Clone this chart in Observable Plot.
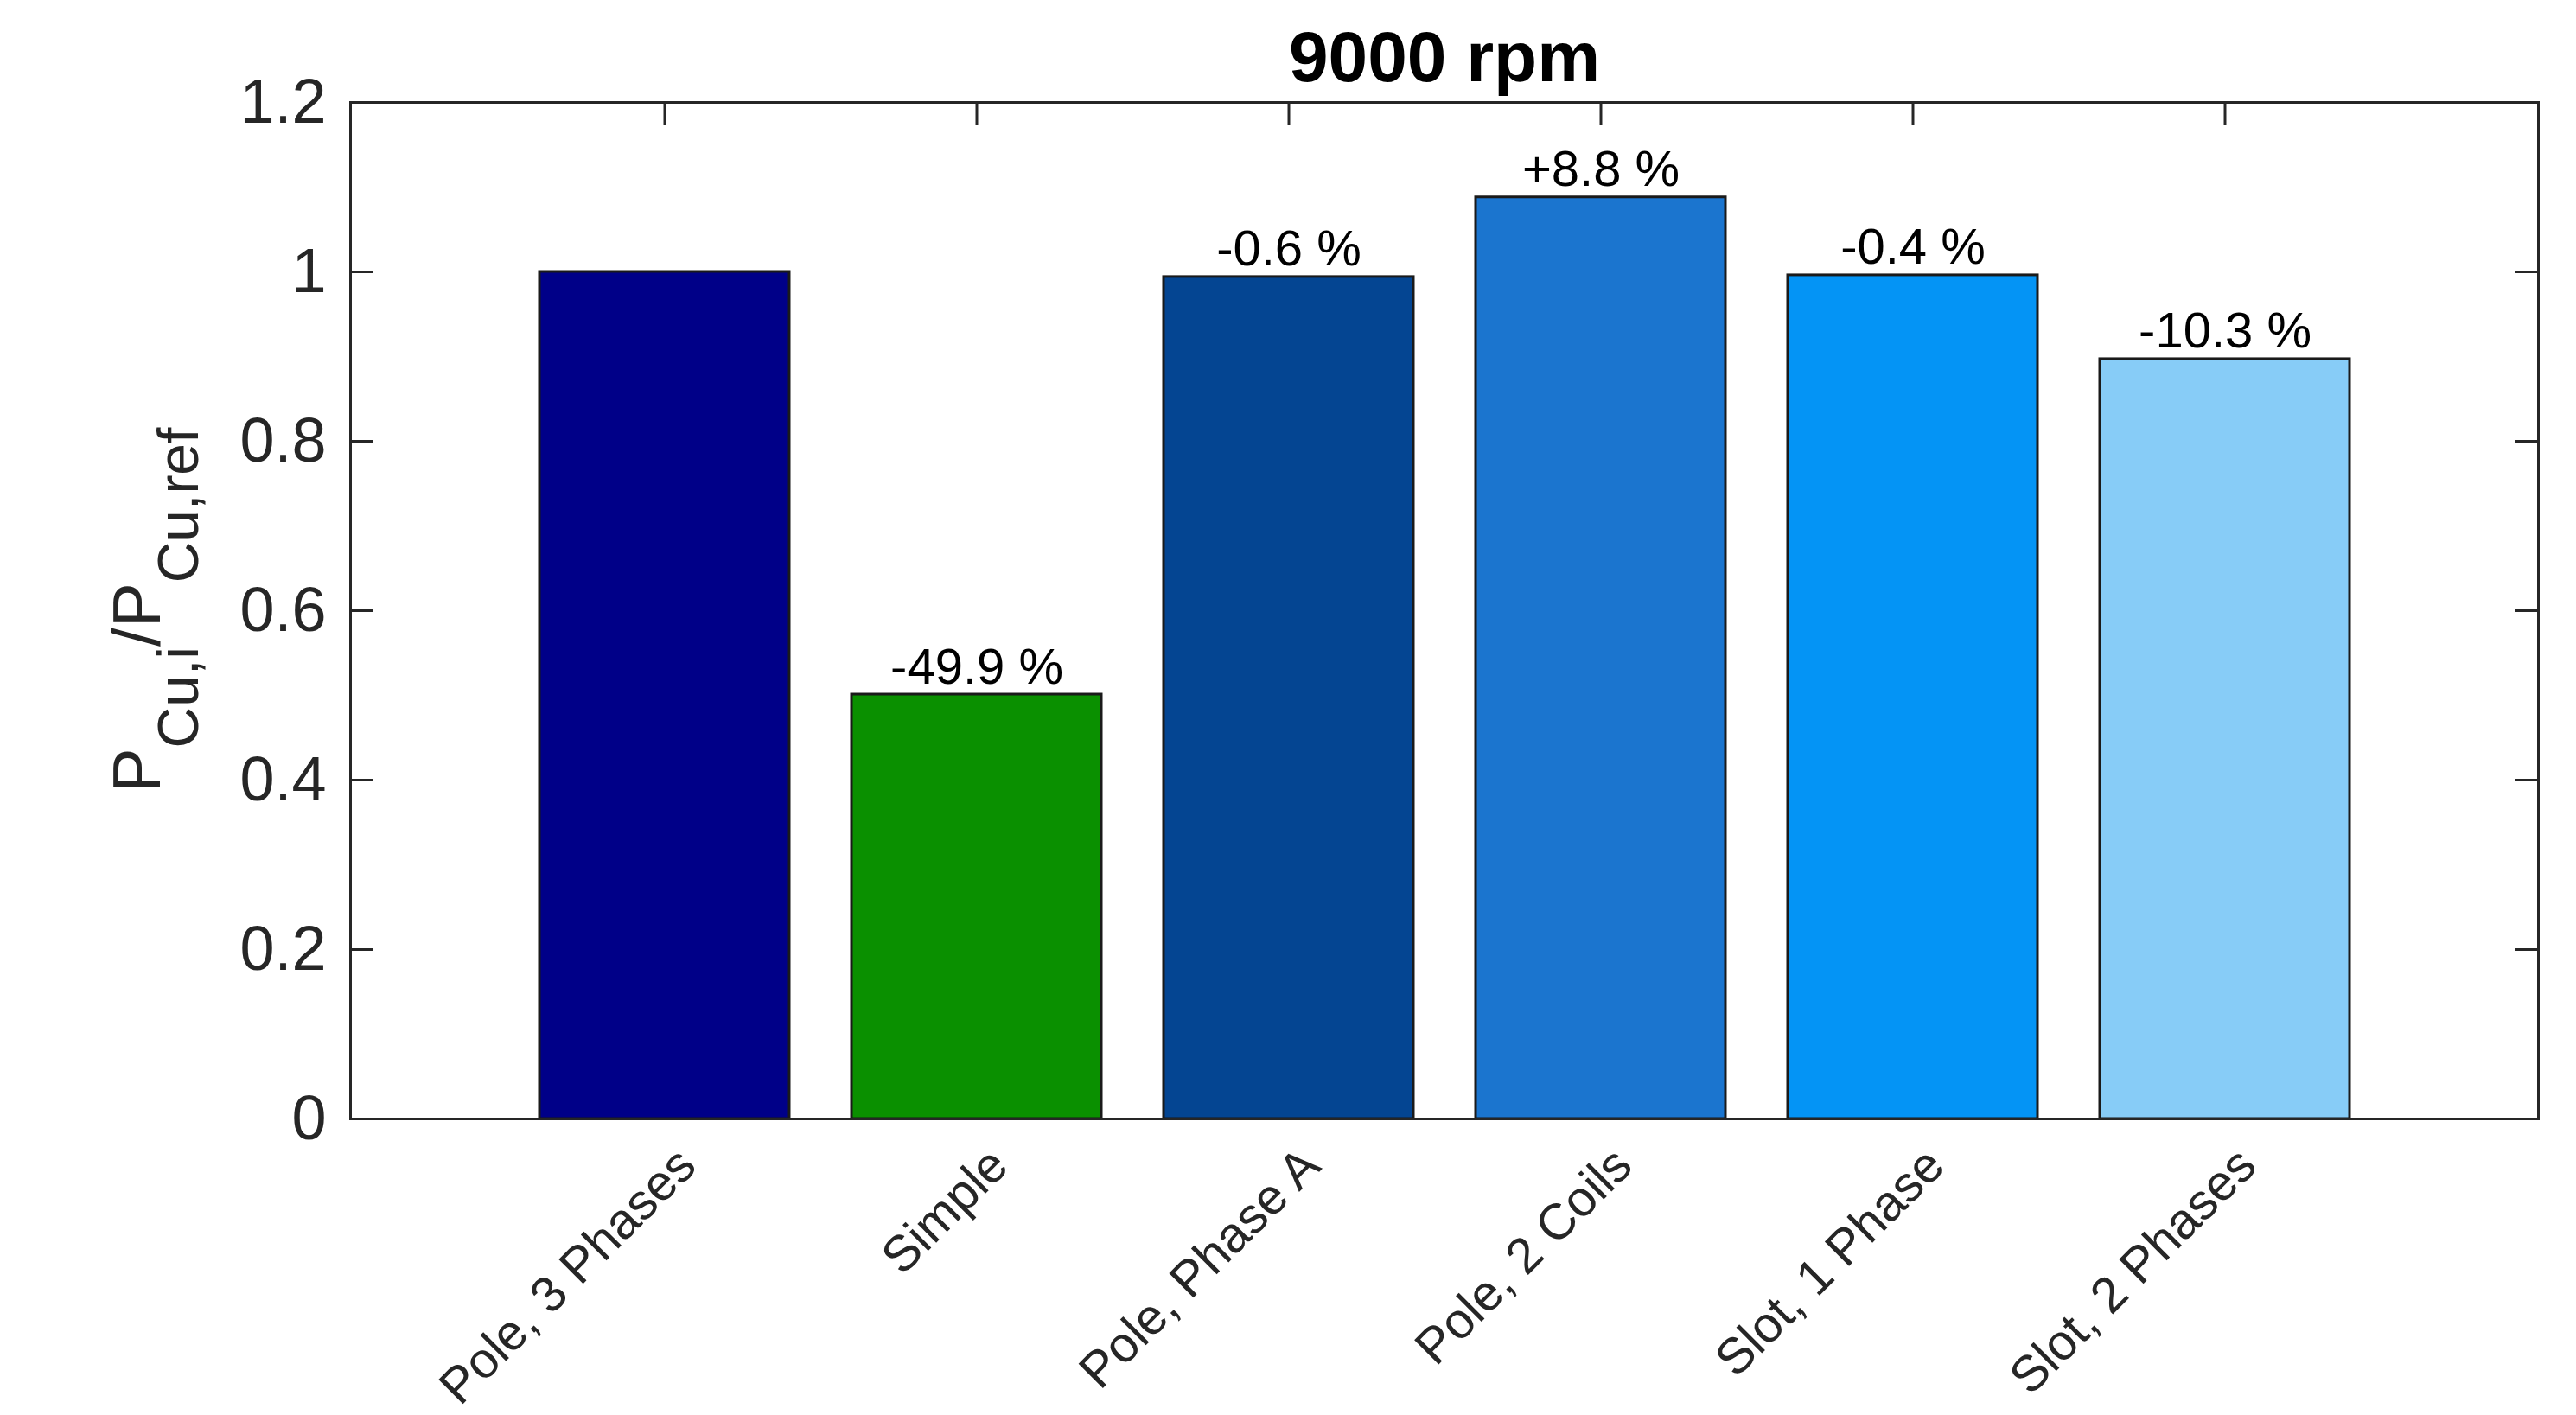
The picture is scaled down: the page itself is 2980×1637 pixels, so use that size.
<!DOCTYPE html>
<html><head><meta charset="utf-8">
<script src="https://cdn.jsdelivr.net/npm/d3@7"></script>
<script src="https://cdn.jsdelivr.net/npm/@observablehq/plot@0.6"></script>
<style>html,body{margin:0;padding:0;background:#fff} svg{display:block}</style>
</head><body><div id="chart"></div>
<script>
const categories = ["Pole, 3 Phases", "Simple", "Pole, Phase A", "Pole, 2 Coils", "Slot, 1 Phase", "Slot, 2 Phases"];
const values = [1.000, 0.501, 0.994, 1.088, 0.996, 0.897];
const barLabels = ["", "-49.9 %", "-0.6 %", "+8.8 %", "-0.4 %", "-10.3 %"];
const barColors = ["#000088", "#0a9000", "#044592", "#1b75cf", "#0494f5", "#87ccf7"];
const yTicks = [0, 0.2, 0.4, 0.6, 0.8, 1, 1.2];
const title = "9000 rpm";

const data = categories.map((c, i) => ({category: c, value: values[i], label: barLabels[i], color: barColors[i]}));
const W = 2980, H = 1637, mL = 405, mR = 44, mT = 118, mB = 343;
const plotW = W - mL - mR, plotH = H - mT - mB;
const font = "'Liberation Sans', Arial, Helvetica, sans-serif";
const axisColor = "#262626";
const fmt = d => String(+(+d).toFixed(1));

const chart = Plot.plot({
  width: W, height: H, marginLeft: mL, marginRight: mR, marginTop: mT, marginBottom: mB,
  style: {fontFamily: font, background: "#fff", color: axisColor},
  x: {type: "band", domain: categories, paddingInner: 0.2, paddingOuter: 0.6, label: null},
  y: {domain: [0, 1.2], ticks: yTicks, label: null, tickFormat: fmt},
  color: {type: "identity"},
  marks: [
    Plot.barY(data, {x: "category", y: "value", fill: "color", stroke: "#1a1a1a", strokeWidth: 3}),
    Plot.gridY(yTicks, {stroke: axisColor, strokeOpacity: 1, strokeWidth: 3, insetRight: plotW - 26}),
    Plot.gridY(yTicks, {stroke: axisColor, strokeOpacity: 1, strokeWidth: 3, insetLeft: plotW - 26}),
    Plot.gridX(categories, {stroke: axisColor, strokeOpacity: 1, strokeWidth: 3, insetBottom: plotH - 27}),
    Plot.frame({stroke: axisColor, strokeWidth: 3}),
    Plot.axisY(yTicks, {tickSize: 0, tickPadding: 28, fontSize: 72, label: null, tickFormat: fmt, fill: axisColor}),
    Plot.axisX({tickSize: 0, tickRotate: -45, tickPadding: 44, dx: 26, fontSize: 58, label: null, fill: axisColor}),
    Plot.text(data.filter(d => d.label), {x: "category", y: "value", text: "label", dy: -13, lineAnchor: "bottom", fontSize: 58, fill: "#000"}),
    Plot.text([title], {frameAnchor: "top", dy: -25, lineAnchor: "bottom", fontSize: 82, fontWeight: "bold", fill: "#000"})
  ]
});
document.getElementById("chart").appendChild(chart);

// y-axis label with subscripts
const svg = d3.select(chart);
const yl = svg.append("text")
  .attr("transform", `translate(${mL - 220}, ${mT + plotH / 2}) rotate(-90)`)
  .attr("text-anchor", "middle")
  .attr("font-family", font)
  .attr("font-size", 78)
  .attr("fill", axisColor);
yl.append("tspan").text("P");
yl.append("tspan").attr("font-size", 66).attr("dy", 44).text("Cu,i");
yl.append("tspan").attr("dy", -44).text("/P");
yl.append("tspan").attr("font-size", 66).attr("dy", 44).text("Cu,ref");
</script>
</body></html>
